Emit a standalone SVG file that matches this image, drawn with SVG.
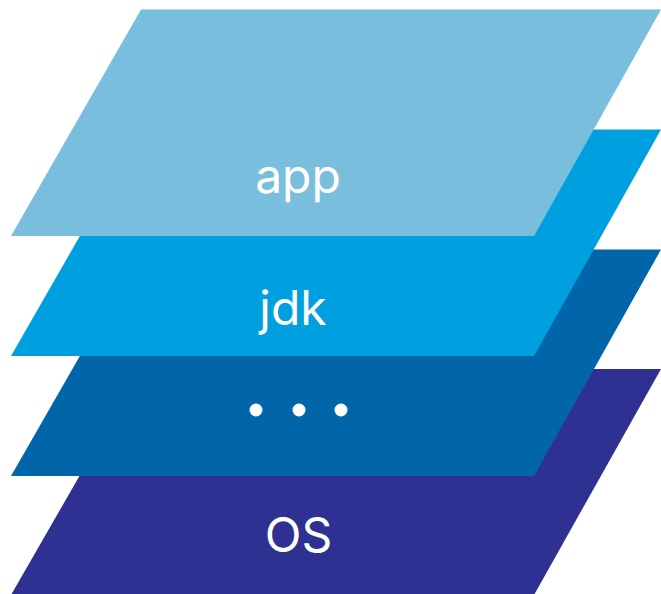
<svg xmlns="http://www.w3.org/2000/svg" width="661" height="594" viewBox="0 0 661 594">
<style>
.lbl{font-family:Inter,"Liberation Sans",sans-serif;font-size:48px;fill:#ffffff;text-anchor:middle}
.dot{fill:#ffffff}
</style>
<rect width="661" height="594" fill="#ffffff"/>
<g id="os">
<polygon points="141,369 661,369 534,595 11,595" fill="#2F3192"/>
<text class="lbl" x="298.5" y="552">OS</text>
</g>
<g id="middle">
<polygon points="141,249.5 661,249.5 534,476 11,476" fill="#0066A9"/>
<circle class="dot" cx="256" cy="410" r="6.5"/>
<circle class="dot" cx="299" cy="410" r="6.5"/>
<circle class="dot" cx="341" cy="410" r="6.5"/>
</g>
<g id="jdk">
<polygon points="141,129.5 661,129.5 534,356 11,356" fill="#009FDF"/>
<text class="lbl" x="293" y="325">jdk</text>
</g>
<g id="app">
<polygon points="141,9.5 661,9.5 534,236 11,236" fill="#79BFDD"/>
<text class="lbl" x="298" y="193">app</text>
</g>
<g id="connectors"></g>
</svg>
